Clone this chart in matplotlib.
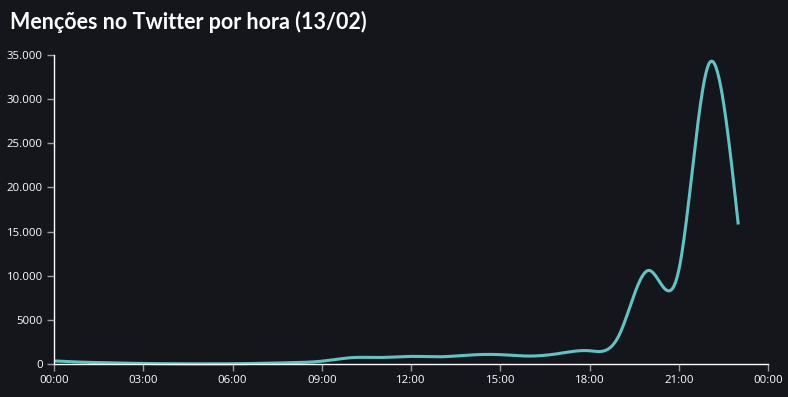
import numpy as np
import matplotlib
matplotlib.use("Agg")
import matplotlib.pyplot as plt
from matplotlib.ticker import FixedLocator

# hourly mentions, 13/02
hours = list(range(24))
mentions = [350, 200, 130, 60, 30, 20, 30, 80, 150, 320,
            720, 740, 860, 820, 1020, 1060, 900, 1200, 1500, 3300,
            10600, 10600, 33900, 15800]
xtick_labels = ["00:00", "03:00", "06:00", "09:00", "12:00", "15:00", "18:00", "21:00", "00:00"]
yticks = [0, 5000, 10000, 15000, 20000, 25000, 30000, 35000]
ytick_labels = ["0", "5000", "10.000", "15.000", "20.000", "25.000", "30.000", "35.000"]

BG = "#15161c"
LINE = "#5ec4c6"


def natural_spline(x, y, n=40):
    x = np.asarray(x, float); y = np.asarray(y, float)
    k = len(x)
    h = np.diff(x)
    A = np.zeros((k, k)); r = np.zeros(k)
    A[0, 0] = A[-1, -1] = 1
    for i in range(1, k - 1):
        A[i, i - 1] = h[i - 1]
        A[i, i] = 2 * (h[i - 1] + h[i])
        A[i, i + 1] = h[i]
        r[i] = 3 * ((y[i + 1] - y[i]) / h[i] - (y[i] - y[i - 1]) / h[i - 1])
    c = np.linalg.solve(A, r)
    xs, ys = [], []
    for i in range(k - 1):
        b = (y[i + 1] - y[i]) / h[i] - h[i] * (2 * c[i] + c[i + 1]) / 3
        d = (c[i + 1] - c[i]) / (3 * h[i])
        t = np.linspace(0, h[i], n, endpoint=(i == k - 2))
        xs.append(x[i] + t)
        ys.append(y[i] + b * t + c[i] * t ** 2 + d * t ** 3)
    return np.concatenate(xs), np.concatenate(ys)


fig = plt.figure(figsize=(7.88, 3.97), dpi=100)
fig.patch.set_facecolor(BG)
ax = fig.add_axes([54 / 788, 1 - 364 / 397, 714 / 788, 309 / 397])
ax.set_facecolor(BG)

xs, ys = natural_spline(hours, mentions)
ax.plot(xs, ys, color=LINE, linewidth=2.2, solid_capstyle="butt", clip_on=False)

ax.set_xlim(0, 24)
ax.set_ylim(0, 35000)
ax.xaxis.set_major_locator(FixedLocator(range(0, 25, 3)))
ax.set_xticklabels(xtick_labels)
ax.yaxis.set_major_locator(FixedLocator(yticks))
ax.set_yticklabels(ytick_labels)

for s in ["top", "right"]:
    ax.spines[s].set_visible(False)
for s in ["left", "bottom"]:
    ax.spines[s].set_color("white")
    ax.spines[s].set_linewidth(1.0)
ax.tick_params(colors="#9a9ba0", labelcolor="white", length=5, width=1,
               labelsize=8.2, pad=3)
for lab in ax.get_xticklabels() + ax.get_yticklabels():
    lab.set_family("Open Sans")

fig.text(10 / 788, 1 - 22 / 397, "Menções no Twitter por hora (13/02)",
         color="white", fontsize=15.5, fontweight="bold", family="Lato",
         ha="left", va="center")

fig.savefig("out.png", dpi=100, facecolor=BG)
